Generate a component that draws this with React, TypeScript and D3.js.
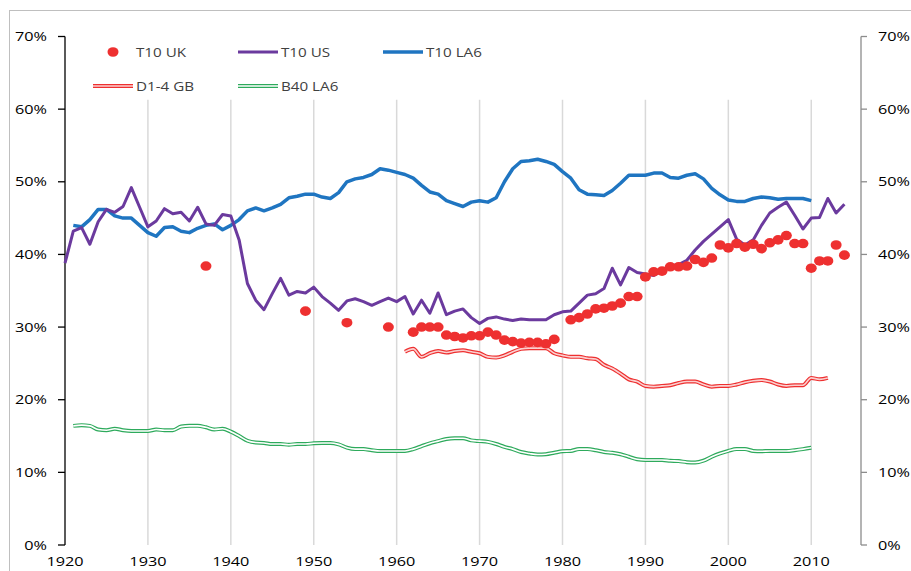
import React from 'react';
import * as d3 from 'd3';

// series values in percent
const usYears = d3.range(1920, 2015);
const usValues = [
  38.8, 43.2, 43.7, 41.4, 44.5, 46.2, 45.8, 46.6, 49.2, 46.5,
  43.8, 44.6, 46.3, 45.6, 45.8, 44.6, 46.5, 44.2, 44.0, 45.5,
  45.3, 42.0, 36.0, 33.7, 32.4, 34.6, 36.7, 34.4, 34.9, 34.7,
  35.5, 34.2, 33.3, 32.3, 33.6, 33.9, 33.5, 33.0, 33.5, 34.0,
  33.5, 34.2, 31.8, 33.7, 31.9, 34.7, 31.7, 32.2, 32.5, 31.3,
  30.5, 31.2, 31.4, 31.1, 30.9, 31.1, 31.0, 31.0, 31.0, 31.7,
  32.1, 32.2, 33.3, 34.4, 34.6, 35.3, 38.1, 35.8, 38.2, 37.5,
  37.3, 37.1, 37.8, 38.4, 38.6, 39.2, 40.6, 41.8, 42.8, 43.8,
  44.8, 42.1, 41.3, 42.0, 44.0, 45.7, 46.5, 47.2, 45.4, 43.5,
  45.0, 45.1, 47.7, 45.7, 46.9
];

const la6Years = d3.range(1921, 2011);
const la6Values = [
  44.0, 43.8, 44.8, 46.2, 46.2, 45.3, 45.0, 45.0, 44.0,
  43.0, 42.5, 43.7, 43.8, 43.2, 43.0, 43.6, 44.0, 44.2, 43.4,
  44.0, 44.8, 46.0, 46.4, 46.0, 46.4, 46.9, 47.8, 48.0, 48.3,
  48.3, 47.9, 47.7, 48.5, 50.0, 50.4, 50.6, 51.0, 51.8, 51.6,
  51.3, 51.0, 50.5, 49.5, 48.6, 48.3, 47.4, 47.0, 46.6, 47.2,
  47.4, 47.2, 47.8, 50.0, 51.8, 52.8, 52.9, 53.1, 52.8, 52.4,
  51.4, 50.5, 48.9, 48.3, 48.2, 48.1, 48.8, 49.8, 50.9, 50.9,
  50.9, 51.2, 51.2, 50.6, 50.5, 50.9, 51.1, 50.4, 49.1, 48.2,
  47.5, 47.3, 47.3, 47.7, 47.9, 47.8, 47.6, 47.7, 47.7, 47.7,
  47.4
];

const ukYears = [
  1937, 1949, 1954, 1959, 1962, 1963, 1964, 1965, 1966, 1967, 1968, 1969,
  1970, 1971, 1972, 1973, 1974, 1975, 1976, 1977, 1978, 1979,
  1981, 1982, 1983, 1984, 1985, 1986, 1987, 1988, 1989, 1990,
  1991, 1992, 1993, 1994, 1995, 1996, 1997, 1998, 1999, 2000,
  2001, 2002, 2003, 2004, 2005, 2006, 2007, 2008, 2009, 2010,
  2011, 2012, 2013, 2014
];
const ukValues = [
  38.4, 32.2, 30.6, 30.0, 29.3, 30.0, 30.0, 30.0, 28.9, 28.7, 28.5, 28.8,
  28.8, 29.3, 28.9, 28.2, 28.0, 27.8, 27.9, 27.9, 27.7, 28.3,
  31.0, 31.3, 31.8, 32.5, 32.6, 32.9, 33.3, 34.2, 34.2, 36.9,
  37.6, 37.7, 38.3, 38.3, 38.4, 39.3, 38.9, 39.5, 41.3, 40.9,
  41.5, 41.0, 41.4, 40.8, 41.6, 42.0, 42.6, 41.5, 41.5, 38.1,
  39.1, 39.1, 41.3, 39.9
];

const gbYears = d3.range(1961, 2013);
const gbValues = [
  26.6, 27.0, 25.9, 26.4, 26.7, 26.5, 26.7, 26.8, 26.6,
  26.4, 25.9, 25.8, 26.1, 26.6, 27.0, 27.1, 27.1, 27.1, 26.4,
  26.1, 25.9, 25.9, 25.7, 25.6, 24.8, 24.3, 23.6, 22.8, 22.5,
  21.9, 21.8, 21.9, 22.0, 22.3, 22.5, 22.5, 22.1, 21.8, 21.9,
  21.9, 22.1, 22.4, 22.6, 22.7, 22.5, 22.1, 21.9, 22.0, 22.0,
  23.0, 22.8, 23.0
];

const b40Years = d3.range(1921, 2011);
const b40Values = [
  16.4, 16.5, 16.4, 15.9, 15.8, 16.0, 15.8, 15.7, 15.7,
  15.7, 15.9, 15.8, 15.8, 16.3, 16.4, 16.4, 16.2, 15.9, 16.0,
  15.6, 15.0, 14.35, 14.1, 14.05, 13.9, 13.9, 13.8, 13.9, 13.9,
  14.0, 14.05, 14.05, 13.85, 13.4, 13.2, 13.2, 13.05, 12.95, 12.95,
  12.95, 12.95, 13.2, 13.6, 14.0, 14.3, 14.6, 14.7, 14.7, 14.4,
  14.3, 14.2, 13.9, 13.5, 13.2, 12.8, 12.6, 12.45, 12.5, 12.7,
  12.9, 12.95, 13.2, 13.2, 13.05, 12.8, 12.7, 12.5, 12.15, 11.8,
  11.7, 11.7, 11.7, 11.6, 11.55, 11.4, 11.35, 11.6, 12.15, 12.6,
  12.95, 13.2, 13.2, 12.95, 12.9, 12.95, 12.95, 12.95, 13.05, 13.2,
  13.4
];

const yTicks = [0, 10, 20, 30, 40, 50, 60, 70];
const xTicks = [1920, 1930, 1940, 1950, 1960, 1970, 1980, 1990, 2000, 2010];

const W = 911;
const H = 571;
const margin = { left: 65, right: 50, top: 36.5, bottom: 26 };
const FONT = "'Open Sans', 'Noto Sans', sans-serif";

const RED = '#ee3030';
const PURPLE = '#6b3a9e';
const BLUE = '#1f75c1';
const GREEN = '#2eaa5c';

type P = [number, number];
const zip = (xs: number[], ys: number[]): P[] => xs.map((x, i) => [x, ys[i]]);

// the original's text is wide, so stretch it a bit horizontally
function Label(props: { x: number; y: number; anchor?: string; size?: number; sx?: number; fill?: string; children: any }) {
  const { x, y, anchor = 'start', size = 13, sx = 1.25, fill = '#000' } = props;
  return (
    <g transform={`translate(${x},${y}) scale(${sx},1)`}>
      <text x={0} y={0} dy="0.35em" textAnchor={anchor} fontSize={size} fill={fill}>{props.children}</text>
    </g>
  );
}

export default function App() {
  const x = d3.scaleLinear().domain([1920, 2016]).range([margin.left, W - margin.right]);
  const y = d3.scaleLinear().domain([0, 70]).range([H - margin.bottom, margin.top]);

  const line = d3.line<P>().x(d => x(d[0])).y(d => y(d[1]));
  const smooth = d3.line<P>().x(d => x(d[0])).y(d => y(d[1])).curve(d3.curveMonotoneX);

  const usPath = line(zip(usYears, usValues)) || '';
  const la6Path = line(zip(la6Years, la6Values)) || '';
  const gbPath = smooth(zip(gbYears, gbValues)) || '';
  const b40Path = smooth(zip(b40Years, b40Values)) || '';

  const gridTop = y(61.3);
  const x0 = x.range()[0];
  const x1 = x.range()[1];

  return (
    <svg width={W} height={H} style={{ position: 'absolute', left: 0, top: 0 }} fontFamily={FONT}>
      <rect x={0} y={0} width={W} height={H} fill="#fff" />
      <rect x={9.5} y={10.5} width={W + 20} height={H + 20} fill="none" stroke="#bfbfbf" />

      {/* vertical gridlines */}
      {xTicks.slice(1).map(t => (
        <line key={t} x1={x(t)} x2={x(t)} y1={gridTop} y2={y(0)} stroke="#d9d9d9" strokeWidth={1.5} />
      ))}

      {/* left axis */}
      <line x1={x0} x2={x0} y1={y(70)} y2={y(0)} stroke="#000" strokeWidth={1.3} />
      {yTicks.map(t => (
        <g key={'l' + t}>
          <line x1={x0 - 7} x2={x0} y1={y(t)} y2={y(t)} stroke="#000" strokeWidth={1.3} />
          <Label x={47} y={y(t)} anchor="end">{t}%</Label>
        </g>
      ))}

      {/* right axis */}
      <line x1={x1} x2={x1} y1={y(70)} y2={y(0)} stroke="#8c8c8c" strokeWidth={1.3} />
      {yTicks.map(t => (
        <g key={'r' + t}>
          <line x1={x1} x2={x1 + 6} y1={y(t)} y2={y(t)} stroke="#8c8c8c" strokeWidth={1.3} />
          <Label x={x1 + 17} y={y(t)}>{t}%</Label>
        </g>
      ))}

      {/* x labels */}
      {xTicks.map(t => (
        <Label key={t} x={x(t)} y={561.5} anchor="middle">{t}</Label>
      ))}

      {/* double lines */}
      <path d={b40Path} fill="none" stroke={GREEN} strokeWidth={4} />
      <path d={b40Path} fill="none" stroke="#fff" strokeWidth={1.6} />
      <path d={gbPath} fill="none" stroke={RED} strokeWidth={4} />
      <path d={gbPath} fill="none" stroke="#fbd0d0" strokeWidth={1.6} />

      {/* solid lines */}
      <path d={la6Path} fill="none" stroke={BLUE} strokeWidth={3.5} strokeLinejoin="round" />
      <path d={usPath} fill="none" stroke={PURPLE} strokeWidth={3} strokeLinejoin="round" />

      {/* UK dots */}
      {ukYears.map((yr, i) => (
        <ellipse key={yr} cx={x(yr)} cy={y(ukValues[i])} rx={5.5} ry={4.8} fill={RED} />
      ))}

      {/* legend */}
      <g>
        <ellipse cx={113} cy={52} rx={5.5} ry={4.8} fill={RED} />
        <Label x={136} y={52.5} sx={1.17} fill="#404040">T10 UK</Label>
        <line x1={238} x2={278} y1={52} y2={52} stroke={PURPLE} strokeWidth={3} />
        <Label x={281} y={52.5} sx={1.17} fill="#404040">T10 US</Label>
        <line x1={383} x2={423} y1={52} y2={52} stroke={BLUE} strokeWidth={3.5} />
        <Label x={426} y={52.5} sx={1.17} fill="#404040">T10 LA6</Label>

        <line x1={93} x2={133} y1={86} y2={86} stroke={RED} strokeWidth={4} />
        <line x1={93} x2={133} y1={86} y2={86} stroke="#fbd0d0" strokeWidth={1.6} />
        <Label x={136} y={86} sx={1.17} fill="#404040">D1-4 GB</Label>
        <line x1={238} x2={278} y1={86} y2={86} stroke={GREEN} strokeWidth={4} />
        <line x1={238} x2={278} y1={86} y2={86} stroke="#fff" strokeWidth={1.6} />
        <Label x={281} y={86} sx={1.17} fill="#404040">B40 LA6</Label>
      </g>
    </svg>
  );
}
